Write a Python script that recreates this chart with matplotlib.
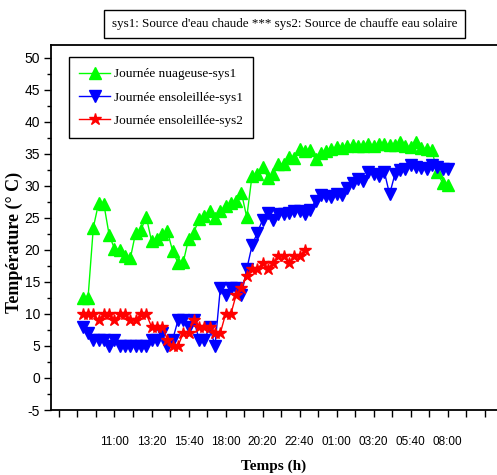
import numpy as np
import matplotlib
matplotlib.use("Agg")
import matplotlib.pyplot as plt

plt.rcParams["axes.unicode_minus"] = False

# samples every 20 min, starting 09:00 (hours counted from midnight of day 1)
t_start = 9.0
step_h = 1.0 / 3.0

nuageuse_sys1 = [12.5, 12.5, 23.5, 27.3, 27.1, 22.3, 20.2, 20.0, 19.1, 18.7,
                 22.7, 23.1, 25.2, 21.4, 21.7, 22.5, 22.9, 19.8, 18.0, 18.1,
                 21.7, 22.7, 24.9, 25.3, 26.1, 25.0, 26.0, 26.9, 27.4, 27.7,
                 28.9, 25.1, 31.6, 31.8, 32.9, 31.3, 31.9, 33.4, 33.4, 34.5,
                 34.4, 35.7, 35.4, 35.6, 34.2, 35.2, 35.5, 35.7, 36.0, 35.9,
                 36.2, 36.4, 36.2, 36.3, 36.6, 36.2, 36.5, 36.5, 36.4, 36.4,
                 36.8, 36.2, 36.1, 36.8, 35.9, 35.7, 35.6, 32.1, 30.5, 30.2]

ensoleillee_sys1 = [8, 7, 6, 6, 6, 5, 6, 5, 5, 5,
                    5, 5, 5, 6, 6, 7, 5, 6, 9, 9,
                    8, 9, 6, 6, 8, 5, 14, 13, 14, 14,
                    13, 17, 20.7, 22.7, 24.7, 25.7, 24.6, 25.6, 25.6, 25.8,
                    26.0, 26.0, 25.6, 26.2, 27.7, 28.5, 28.4, 28.3, 28.8, 28.6,
                    29.7, 30.4, 31.0, 30.7, 32.2, 31.8, 31.5, 32.2, 28.7, 31.8,
                    32.5, 32.6, 33.3, 32.9, 32.8, 32.6, 33.3, 33.0, 32.6, 32.6]

ensoleillee_sys2 = [10, 10, 10, 9, 10, 10, 9, 10, 10, 9,
                    9, 10, 10, 8, 8, 8, 6, 5, 5, 7,
                    7, 9, 8, 8, 8, 7, 7, 10, 10, 13,
                    14, 16, 17, 17, 18, 17, 18, 19, 19, 18,
                    19, 19, 20]

tick_labels = ["11:00", "13:20", "15:40", "18:00", "20:20",
               "22:40", "01:00", "03:20", "05:40", "08:00"]

t1 = t_start + step_h * np.arange(len(nuageuse_sys1))
t2 = t_start + step_h * np.arange(len(ensoleillee_sys1))
t3 = t_start + step_h * np.arange(len(ensoleillee_sys2))

serif = ["Liberation Serif", "DejaVu Serif"]
sans = ["Liberation Sans", "DejaVu Sans"]

fig = plt.figure(figsize=(4.97, 4.75), dpi=100)
ax = fig.add_axes([51 / 497, 65 / 475, 446 / 497, 365 / 475])

ax.plot(t1, nuageuse_sys1, color="#00ff00", lw=1, marker="^", ms=8,
        mec="#00ff00", label="Journée nuageuse-sys1")
ax.plot(t2, ensoleillee_sys1, color="#0000ff", lw=1, marker="v", ms=8,
        mec="#0000ff", label="Journée ensoleillée-sys1")
ax.plot(t3, ensoleillee_sys2, color="#ff0000", lw=1, marker="*", ms=9,
        mec="#ff0000", label="Journée ensoleillée-sys2")

ax.set_xlim(7.0, 35.1)
ax.set_ylim(-5, 52)

# ticks every 70 min, labels every 140 min
xt = 7.5 + np.arange(24) * 7.0 / 6.0
ax.set_xticks(xt)
labs = []
j = 0
for k in range(len(xt)):
    if k >= 3 and (k - 3) % 2 == 0 and j < len(tick_labels):
        labs.append(tick_labels[j])
        j += 1
    else:
        labs.append("")
ax.set_xticklabels(labs)
ax.set_yticks(np.arange(-5, 51, 5))
ax.set_yticks(np.arange(-5, 51, 2.5), minor=True)

ax.tick_params(axis="x", direction="out", length=5, width=1, pad=14)
ax.tick_params(axis="y", which="major", direction="out", length=5, width=1, pad=3)
ax.tick_params(axis="y", which="minor", direction="out", length=3, width=1)
for lab in ax.get_xticklabels():
    lab.set_family(sans)
    lab.set_fontsize(8.5)
for lab in ax.get_yticklabels():
    lab.set_family(sans)
    lab.set_fontsize(10)

ax.spines["right"].set_visible(False)
for s in ["left", "bottom", "top"]:
    ax.spines[s].set_linewidth(1.3)

ax.set_ylabel("Température (° C)", family=serif, fontweight="bold",
              fontsize=13)
ax.yaxis.set_label_coords(-0.063, 0.46)
ax.set_xlabel("Temps (h)", family=serif, fontweight="bold", fontsize=11,
              labelpad=8)

leg = ax.legend(loc="upper left", bbox_to_anchor=(0.04, 0.966),
                prop={"family": serif, "size": 9.5}, fancybox=False,
                edgecolor="black", framealpha=1, handlelength=2.3,
                handletextpad=0.3, labelspacing=0.85, borderpad=0.8,
                borderaxespad=0, markerscale=1.0)
leg.get_frame().set_linewidth(1.0)

fig.text(0.573, 0.949, "sys1: Source d'eau chaude *** sys2: Source de chauffe eau solaire",
         family=serif, fontsize=9.4, ha="center", va="center",
         bbox=dict(boxstyle="square,pad=0.6", fc="white", ec="black", lw=1))

fig.savefig("out.png", dpi=100)
